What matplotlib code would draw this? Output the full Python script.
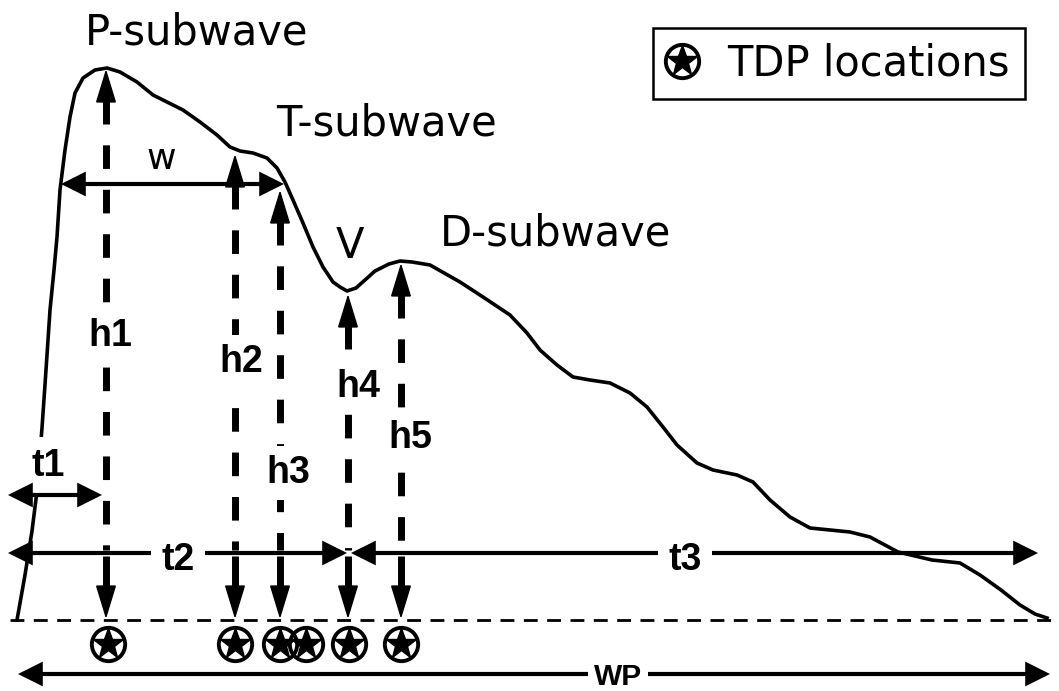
import matplotlib
matplotlib.use('Agg')
import matplotlib.pyplot as plt
from matplotlib.patches import FancyArrowPatch
from matplotlib.lines import Line2D
from matplotlib.legend_handler import HandlerTuple
from matplotlib import font_manager

# pulse wave outline (pixel coords, y down)
curve_x = [17, 25, 32, 37, 42, 46, 50, 54, 57, 60, 65, 70, 75, 83, 95, 107, 120, 137, 153, 167,
           183, 200, 217, 230, 240, 253, 267, 277, 285, 293, 303, 313, 323, 333, 340, 347, 356, 365,
           375, 389, 400, 412, 430, 460, 483, 510, 527, 540, 557, 573, 590, 610, 630, 647, 663, 677,
           697, 713, 737, 753, 770, 790, 810, 830, 850, 870, 898, 932, 960, 980, 1001, 1020, 1035, 1047]
curve_y = [620, 575, 531, 491, 428, 370, 310, 270, 237, 190, 150, 117, 93, 78, 70, 68, 72, 82, 95, 102,
           110, 122, 135, 147, 151, 153, 158, 168, 182, 200, 223, 247, 267, 282, 287, 291, 288, 280,
           271, 264, 261, 262, 265, 282, 297, 315, 333, 350, 365, 377, 380, 383, 393, 407, 427, 445,
           463, 470, 475, 482, 500, 517, 528, 530, 532, 537, 552, 560, 563, 575, 590, 605, 614, 618]

base_y = 620
# h arrows
h_names = ['h1', 'h2', 'h3', 'h4', 'h5']
h_x = [106, 235, 280, 348, 401]
h_top = [69, 154, 190, 294, 263]
h_lab_x = [110, 241, 288, 358, 410]
h_lab_y = [346, 372, 483, 397, 448]
# TDP markers
tdp_x = [108, 235, 280, 306, 349, 401]
tdp_y = [644, 644, 644, 644, 644, 644]

# horizontal arrows: name, x0, x1, y
spans = [('w', 61, 284, 184), ('t1', 8, 102, 495), ('t2', 8, 347, 553),
         ('t3', 351, 1038, 553), ('WP', 18, 1050, 674)]

fig = plt.figure(figsize=(10.59, 6.91), dpi=100)
ax = fig.add_axes([0, 0, 1, 1])
ax.set_xlim(0, 1059)
ax.set_ylim(691, 0)
ax.axis('off')

names = [f.name for f in font_manager.fontManager.ttflist]
if 'Liberation Sans Narrow' in names:
    bold_font, bold_size = 'Liberation Sans Narrow', 31
else:
    bold_font, bold_size = 'Liberation Sans', 27

ax.plot(curve_x, curve_y, color='black', lw=2.6, zorder=3, solid_joinstyle='round')
ax.plot([10, 1059], [base_y, base_y], color='black', lw=2, ls=(0, (5, 3.4)), zorder=2)


def head(p0, p1, hl, hw, lw=1, style='-|>', z=4):
    a = FancyArrowPatch(p0, p1, arrowstyle=f'{style},head_length={hl},head_width={hw}',
                        mutation_scale=1, lw=lw, color='black', shrinkA=0, shrinkB=0,
                        joinstyle='miter', capstyle='butt', zorder=z)
    ax.add_patch(a)


# vertical dashed arrows
for x, yt in zip(h_x, h_top):
    ax.plot([x, x], [yt + 30, yt + 55], color='black', lw=5, solid_capstyle='butt', zorder=4)
    head((x, yt + 32), (x, yt), 22, 6.7)
    ax.plot([x, x], [yt + 55, 550], color='black', lw=5, ls=(3.4, (3.4, 3.0)),
            dash_capstyle='butt', zorder=2)
    ax.plot([x, x], [556, 589], color='black', lw=5, solid_capstyle='butt', zorder=4)
    head((x, 587), (x, 619), 22, 6.7)

for n, x, y in zip(h_names, h_lab_x, h_lab_y):
    ax.text(x, y, n, ha='center', va='baseline', family=bold_font, fontsize=bold_size,
            fontweight='bold', zorder=5,
            bbox=dict(boxstyle='square,pad=0.25', fc='white', ec='none'))

# horizontal arrows (t1 drawn above its label box)
for n, x0, x1, y in spans:
    head((x0, y), (x1, y), 13, 6.5, lw=3, style='<|-|>', z=6 if n == 't1' else 4)

ax.text(161, 169, 'w', ha='center', va='baseline', family='DejaVu Sans', fontsize=26, zorder=5)
ax.text(48, 476, 't1', ha='center', va='baseline', family=bold_font, fontsize=bold_size,
        fontweight='bold', zorder=5, bbox=dict(boxstyle='square,pad=0.3', fc='white', ec='none'))
ax.text(178, 570, 't2', ha='center', va='baseline', family=bold_font, fontsize=bold_size,
        fontweight='bold', zorder=5, bbox=dict(boxstyle='square,pad=0.28', fc='white', ec='none'))
ax.text(685, 570, 't3', ha='center', va='baseline', family=bold_font, fontsize=bold_size,
        fontweight='bold', zorder=5, bbox=dict(boxstyle='square,pad=0.28', fc='white', ec='none'))
ax.text(618, 685, 'WP', ha='center', va='baseline', family='Liberation Sans', fontsize=21.5,
        fontweight='bold', zorder=5, bbox=dict(boxstyle='square,pad=0.2', fc='white', ec='none'))

# wave labels
ax.text(197, 44, 'P-subwave', ha='center', va='baseline', family='DejaVu Sans', fontsize=30)
ax.text(387, 135, 'T-subwave', ha='center', va='baseline', family='DejaVu Sans', fontsize=30)
ax.text(350, 258, 'V', ha='center', va='baseline', family='DejaVu Sans', fontsize=30)
ax.text(556, 245, 'D-subwave', ha='center', va='baseline', family='DejaVu Sans', fontsize=30)

# TDP markers
ax.plot(tdp_x, tdp_y, ls='none', marker='o', ms=24, mfc='none', mec='black', mew=2.8, zorder=6)
ax.plot(tdp_x, tdp_y, ls='none', marker='*', ms=23, color='black', zorder=6)

circ = Line2D([], [], ls='none', marker='o', ms=24, mfc='none', mec='black', mew=2.8)
star = Line2D([], [], ls='none', marker='*', ms=23, color='black')
leg = ax.legend([(circ, star)], ['TDP locations'], handler_map={tuple: HandlerTuple(ndivide=1)},
                loc='upper left', bbox_to_anchor=(653 / 1059, 1 - 28 / 691),
                bbox_transform=fig.transFigure, borderaxespad=0, fancybox=False,
                edgecolor='black', framealpha=1, prop={'family': 'DejaVu Sans', 'size': 30},
                handlelength=0.67, handletextpad=0.77, borderpad=0.35)
leg.get_frame().set_linewidth(1.8)

fig.savefig('out.png', dpi=100, facecolor='white')
